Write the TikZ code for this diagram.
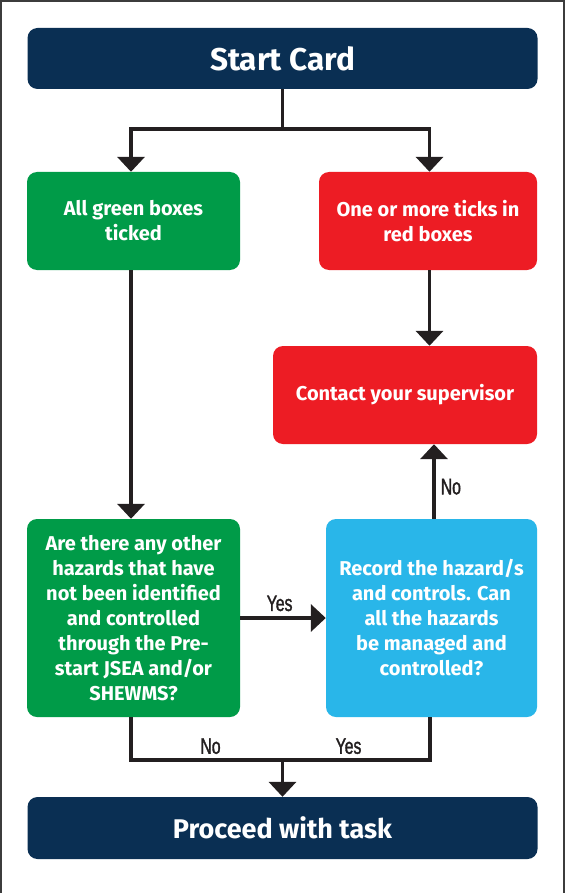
\documentclass[tikz,border=0pt]{standalone}
\usepackage{fontspec}
\setmainfont{Fira Sans}
\newfontfamily\narrowfont[FakeStretch=0.7,FakeBold=1.4]{Liberation Sans}
\usetikzlibrary{arrows.meta,calc}
\definecolor{navy}{HTML}{0A2F53}
\definecolor{grn}{HTML}{009B48}
\definecolor{rd}{HTML}{ED1C24}
\definecolor{blu}{HTML}{29B6E9}
\definecolor{ink}{HTML}{231F20}
\definecolor{frame}{HTML}{3C3C3C}
\begin{document}
\begin{tikzpicture}[x=1pt,y=-1pt,
  box/.style={rounded corners=10pt, inner sep=0pt, align=center, text=white,
    font=\bfseries\fontsize{20}{25}\selectfont, anchor=center},
  bar/.style={box, fill=navy, minimum width=510pt},
  conn/.style={draw=ink, line width=3.6pt},
  arr/.style={conn, -{Triangle[width=27pt,length=15pt]}},
  lbl/.style={font=\narrowfont\fontsize{22.5}{23}\selectfont, text=ink, inner sep=0pt}]
\useasboundingbox (0,0) rectangle (565,893);
\fill[white] (0,0) rectangle (565,893);
\draw[frame, line width=2pt] (1,893) -- (1,1) -- (564,1) -- (564,893);

\node[bar, minimum height=61pt, font=\bfseries\fontsize{31.5}{36}\selectfont] (start) at (282.5,58.5) {Start Card};
\node[box, fill=grn, minimum width=213pt, minimum height=98pt] (g1) at (133.5,221) {All green boxes\\ticked};
\node[box, fill=rd, minimum width=218pt, minimum height=98pt] (r1) at (428,221) {One or more ticks in\\red boxes};
\node[box, fill=rd, minimum width=264pt, minimum height=98pt] (contact) at (405,395) {Contact your supervisor};
\node[box, fill=grn, minimum width=213pt, minimum height=198pt] (g2) at (133.5,618) {Are there any other\\hazards that have\\not been identified\\and controlled\\through the Pre-\\start JSEA and/or\\SHEWMS?};
\node[box, fill=blu, minimum width=211pt, minimum height=198pt] (blue) at (431.5,618) {Record the hazard/s\\and controls. Can\\all the hazards\\be managed and\\controlled?};
\node[bar, minimum height=62pt, font=\bfseries\fontsize{27}{32}\selectfont] (proceed) at (282.5,828) {Proceed with task};

\coordinate (split) at ($(start.south)+(0,40)$);
\coordinate (merge) at ($(proceed.north)+(0,-37)$);

\draw[conn] (start.south) -- (split);
\draw[arr] (split) -| ([xshift=-2.5pt]g1.north);
\draw[arr] (split) -| ([xshift=1.5pt]r1.north);
\draw[arr] ([xshift=-2.5pt]g1.south) -- ([xshift=-2.5pt]g2.north);
\draw[arr] ([xshift=1.5pt]r1.south) -- ([xshift=1.5pt]r1.south |- contact.north);
\draw[arr] ([xshift=2.5pt]blue.north) -- node[lbl, right=5pt, pos=0.43] {No} ([xshift=2.5pt]blue.north |- contact.south);
\draw[arr] (g2.east) -- node[lbl, above=5pt, pos=0.46] {Yes} (blue.west);
\draw[conn] ([xshift=-2.5pt]g2.south) |- (merge) -| ([xshift=-1.5pt]blue.south);
\node[lbl, anchor=base] (nolbl) at ($(merge)+(-72,-6)$) {No};
\node[lbl, anchor=base] (yeslbl) at ($(merge)+(66,-6)$) {Yes};
\draw[arr] (merge) -- (proceed.north);
\end{tikzpicture}
\end{document}
